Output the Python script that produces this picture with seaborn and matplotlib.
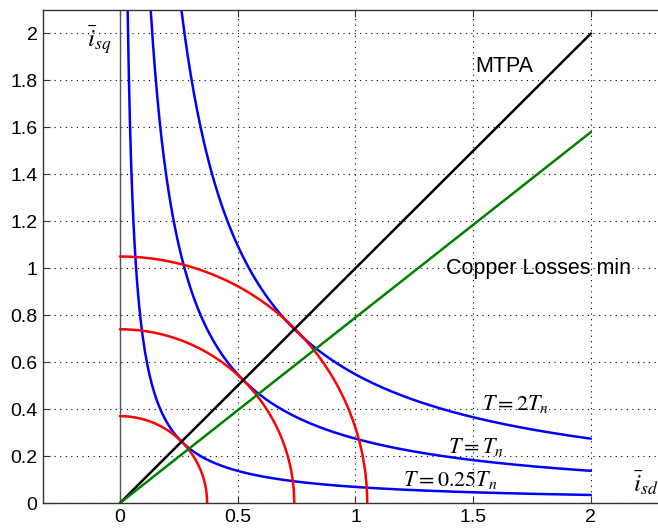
import numpy as np
import pandas as pd
import matplotlib
matplotlib.use("Agg")
import matplotlib.pyplot as plt
import seaborn as sns

# Operating curves in the normalised (i_sd, i_sq) current plane
torque_labels = [r"$T=0.25T_n$", r"$T=T_n$", r"$T=2T_n$"]
torque_constants = [0.0684, 0.274, 0.548]   # i_sd * i_sq along each constant-torque curve
current_radii = [0.37, 0.74, 1.05]          # constant current-magnitude circles
mtpa_slope = 1.0
copper_slope = 0.79
isd_max = 2.0

x_ticks = [0, 0.5, 1, 1.5, 2]
x_ticklabels = ["0", "0.5", "1", "1.5", "2"]
y_ticks = [0, 0.2, 0.4, 0.6, 0.8, 1.0, 1.2, 1.4, 1.6, 1.8, 2.0]
y_ticklabels = ["0", "0.2", "0.4", "0.6", "0.8", "1", "1.2", "1.4", "1.6", "1.8", "2"]

sns.set_theme(style="white")
plt.rcParams["font.family"] = ["Liberation Sans", "DejaVu Sans"]
plt.rcParams["mathtext.fontset"] = "stix"
plt.rcParams["text.color"] = "black"

fig = plt.figure(figsize=(6.58, 5.28), dpi=100)
W, H = 658, 528
left_px, right_px, top_px, bottom_px = 43, 658, 10, 503
ax = fig.add_axes([left_px / W, 1 - bottom_px / H, (right_px - left_px) / W, (bottom_px - top_px) / H])

ymax = 2.1
# constant-torque hyperbolas
frames = []
for lab, k in zip(torque_labels, torque_constants):
    xs = np.linspace(k / ymax, isd_max, 400)
    frames.append(pd.DataFrame({"isd": xs, "isq": k / xs, "curve": lab}))
torque_df = pd.concat(frames)
for lab in torque_labels:
    sns.lineplot(data=torque_df[torque_df.curve == lab], x="isd", y="isq", sort=False,
                 color="#0000ff", lw=1.8, ax=ax, estimator=None)

# constant-current circles
for r in current_radii:
    th = np.linspace(np.pi / 2, 0, 200)
    cdf = pd.DataFrame({"isd": r * np.cos(th), "isq": r * np.sin(th)})
    sns.lineplot(data=cdf, x="isd", y="isq", sort=False, color="#ff0000", lw=1.8,
                 ax=ax, estimator=None)

# straight operating trajectories
lines_df = pd.DataFrame({"isd": [0, isd_max]})
sns.lineplot(x=lines_df.isd, y=mtpa_slope * lines_df.isd, color="black", lw=1.8, ax=ax)
sns.lineplot(x=lines_df.isd, y=copper_slope * lines_df.isd, color="#008000", lw=1.8, ax=ax)

# i_sq axis line
ax.axvline(0, color="#555555", lw=1.0, zorder=1)

ax.set_xlim(-0.327, 2.285)
ax.set_ylim(0, ymax)
ax.set_xticks(x_ticks)
ax.set_xticklabels(x_ticklabels)
ax.set_yticks(y_ticks)
ax.set_yticklabels(y_ticklabels)
ax.set_xlabel("")
ax.set_ylabel("")
ax.grid(True, linestyle=(0, (1, 4)), color="black", lw=0.8)
ax.tick_params(axis="both", direction="in", length=5, width=0.8, colors="#333333",
               labelcolor="black", labelsize=14, top=True, bottom=True, left=True,
               pad=4)
for s in ["left", "bottom", "top"]:
    ax.spines[s].set_color("#333333")
    ax.spines[s].set_linewidth(1.0)
ax.spines["right"].set_visible(False)

ax.text(1.507, 1.86, "MTPA", fontsize=15.5, va="center", ha="left")
ax.text(1.384, 1.0, "Copper Losses min", fontsize=15.5, va="center", ha="left")
ax.text(1.537, 0.42, torque_labels[2], fontsize=16, va="center", ha="left")
ax.text(1.393, 0.24, torque_labels[1], fontsize=16, va="center", ha="left")
ax.text(1.20, 0.10, torque_labels[0], fontsize=16, va="center", ha="left")
ax.text(-0.14, 1.97, r"$\bar{i}_{sq}$", fontsize=18, va="center", ha="left")
ax.text(2.18, 0.085, r"$\bar{i}_{sd}$", fontsize=18, va="center", ha="left")

fig.savefig("out.png", dpi=100)
